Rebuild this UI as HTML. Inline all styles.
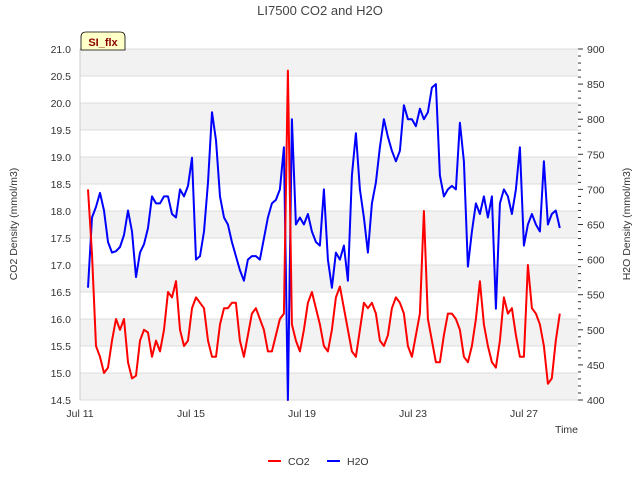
<!DOCTYPE html>
<html><head><meta charset="utf-8"><style>
body{margin:0;background:#fff}
svg{display:block;font-family:"Liberation Sans",sans-serif}
</style></head><body>
<svg id="chart" width="640" height="480">
<text x="320" y="15" text-anchor="middle" font-size="13" fill="#444">LI7500 CO2 and H2O</text>
<g id="bands"></g><g id="grid"></g><g id="axes"></g><g id="series"></g>
<text transform="translate(17,224) rotate(-90)" text-anchor="middle" font-size="10.5" fill="#333">CO2 Density (mmol/m3)</text>
<text transform="translate(630,224) rotate(-90)" text-anchor="middle" font-size="10.5" fill="#333">H2O Density (mmol/m3)</text>
<text x="578" y="433" text-anchor="end" font-size="10.5" fill="#333">Time</text>
<g>
<line x1="268" y1="461" x2="281" y2="461" stroke="#f00" stroke-width="2"/>
<text x="288" y="465" font-size="10.5" fill="#333">CO2</text>
<line x1="327" y1="461" x2="340" y2="461" stroke="#00f" stroke-width="2"/>
<text x="347" y="465" font-size="10.5" fill="#333">H2O</text>
</g>
<g>
<path d="M81,50 L81,37 Q81,32 86,32 L120,32 Q125,32 125,37 L125,50 Z" fill="#ffffc8" stroke="#000" stroke-width="0.8"/>
<text x="103" y="46" text-anchor="middle" font-size="11" font-weight="bold" fill="#8b0000">SI_flx</text>
</g>
</svg>
<script>
const co2Values=[18.4,17.2,15.5,15.3,15.0,15.1,15.6,16.0,15.8,16.0,15.2,14.9,14.95,15.6,15.8,15.75,15.3,15.6,15.4,15.8,16.5,16.4,16.7,15.8,15.5,15.6,16.2,16.4,16.3,16.2,15.6,15.3,15.3,15.9,16.2,16.2,16.3,16.3,15.6,15.3,15.7,16.1,16.2,16.0,15.8,15.4,15.4,15.7,16.0,16.1,20.6,15.9,15.6,15.4,15.8,16.3,16.5,16.2,15.9,15.5,15.4,15.8,16.4,16.6,16.2,15.8,15.4,15.3,15.8,16.3,16.2,16.3,16.1,15.6,15.5,15.7,16.2,16.4,16.3,16.1,15.5,15.3,15.7,16.1,18.0,16.0,15.6,15.2,15.2,15.7,16.1,16.1,16.0,15.8,15.3,15.2,15.5,16.0,16.7,15.9,15.5,15.2,15.1,15.6,16.4,16.1,16.2,15.7,15.3,15.3,17.0,16.2,16.1,15.9,15.5,14.8,14.9,15.6,16.1];
const h2oValues=[560,660,675,695,670,625,610,612,618,635,670,640,575,610,622,645,690,680,680,690,690,665,660,700,690,705,745,600,605,640,710,810,770,690,660,650,625,605,585,570,600,605,605,600,630,660,680,685,700,760,400,800,650,660,650,665,640,625,620,700,600,560,610,600,620,570,720,780,700,660,610,680,710,760,800,775,755,740,755,820,800,800,790,815,800,810,845,850,720,690,700,705,700,795,740,590,640,680,665,690,660,690,530,680,700,690,665,700,760,620,650,665,650,640,740,650,665,670,645];
const startDay=0.288, stepDay=0.1441;
const xTickLabels=["Jul 11","Jul 15","Jul 19","Jul 23","Jul 27"];
const xTickDays=[0,4,8,12,16];
const leftTicks=[14.5,15.0,15.5,16.0,16.5,17.0,17.5,18.0,18.5,19.0,19.5,20.0,20.5,21.0];
const rightTicks=[400,450,500,550,600,650,700,750,800,850,900];

const NS="http://www.w3.org/2000/svg";
const X0=80,X1=578,Y0=49,Y1=400;
const xS=d=>X0+d*27.75;
const yL=v=>Y1-(v-14.5)/6.5*(Y1-Y0);
const yR=v=>Y1-(v-400)/500*(Y1-Y0);
function mk(tag,attrs,parent){const e=document.createElementNS(NS,tag);for(const k in attrs)e.setAttribute(k,attrs[k]);document.getElementById(parent).appendChild(e);return e;}

for(let i=0;i<leftTicks.length-1;i++){
  if((leftTicks.length-2-i)%2===0){
    const r=mk('rect',{x:X0,y:yL(leftTicks[i+1]),width:X1-X0,height:yL(leftTicks[i])-yL(leftTicks[i+1]),fill:'#f2f2f2'},'bands');
    
    
  }
}
leftTicks.forEach(v=>{
  const l=mk('line',{x1:X0,x2:X1,y1:yL(v),y2:yL(v),stroke:'#dcdcdc','stroke-width':1},'grid');
  
  
  const t=mk('text',{x:X0-9,y:yL(v)+4,'text-anchor':'end','font-size':10.5,fill:'#333'},'axes');
  t.textContent=v.toFixed(1);
  
  
});
const ax=mk('line',{x1:X0,x2:X0,y1:Y0,y2:Y1,stroke:'#ccc'},'axes');


for(let v=400;v<=900;v+=10){
  const m=mk('line',{x1:X1,x2:X1+(v%50===0?5:3),y1:yR(v),y2:yR(v),stroke:'#333'},'axes');
  
  
}
rightTicks.forEach(v=>{
  const t=mk('text',{x:X1+9,y:yR(v)+4,'font-size':10.5,fill:'#333'},'axes');
  t.textContent=v;
  
  
});
xTickDays.forEach((d,i)=>{
  const t=mk('text',{x:xS(d),y:Y1+17,'text-anchor':'middle','font-size':10.5,fill:'#333'},'axes');
  t.textContent=xTickLabels[i];
  
  
});
function line(vals,yf,col,name){
  const pts=vals.map((v,i)=>xS(startDay+i*stepDay).toFixed(1)+','+yf(v).toFixed(1)).join(' ');
  const p=mk('polyline',{points:pts,fill:'none',stroke:col,'stroke-width':2,'stroke-linejoin':'round'},'series');
  
  
}
line(h2oValues,yR,'#0000ff','h2o-line');
line(co2Values,yL,'#ff0000','co2-line');
</script>
</body></html>
